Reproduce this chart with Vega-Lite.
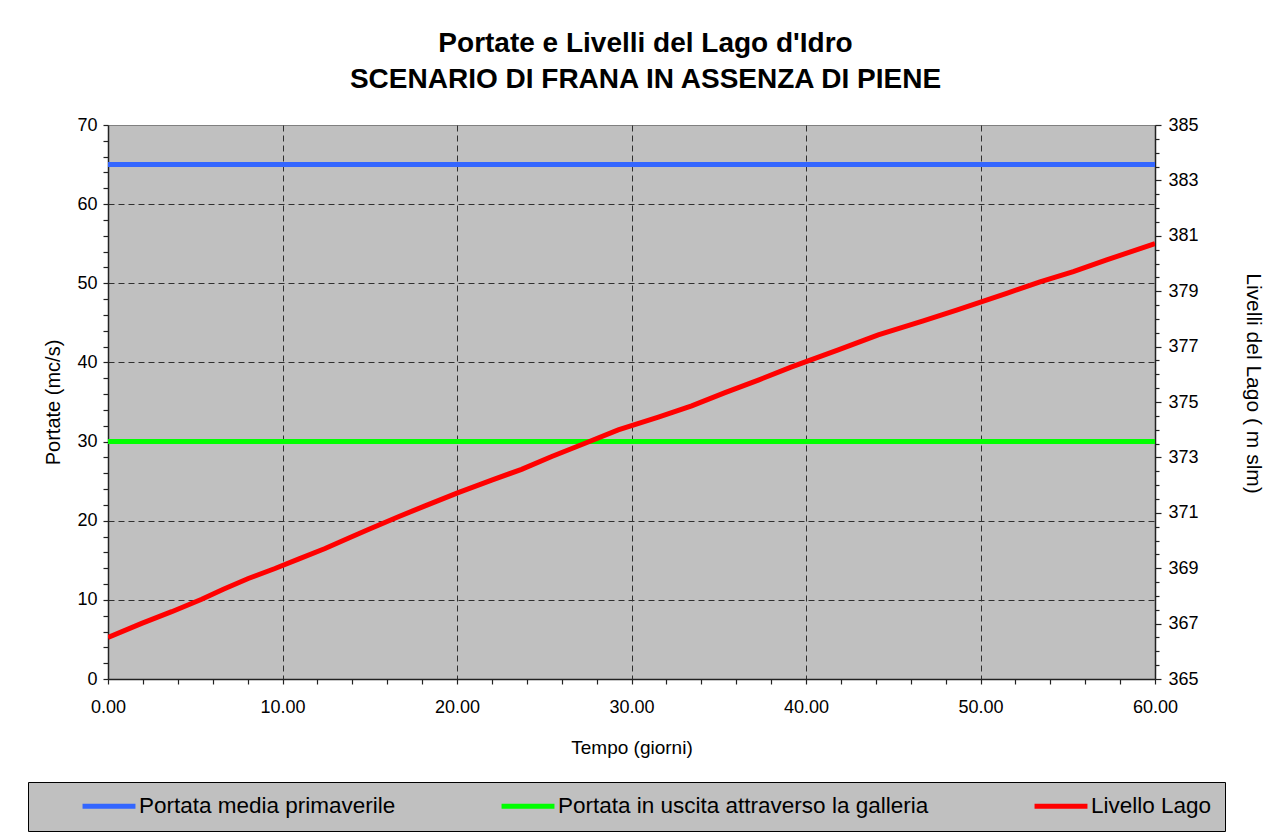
{
  "$schema": "https://vega.github.io/schema/vega-lite/v6.json",
  "width": 1047,
  "height": 554,
  "autosize": {"type": "none"},
  "padding": {"left": 108, "top": 125, "right": 113, "bottom": 153},
  "background": "white",
  "title": {
    "text": ["Portate e Livelli del Lago d'Idro", "SCENARIO DI FRANA IN ASSENZA DI PIENE"],
    "font": "Liberation Sans",
    "fontSize": 28,
    "fontWeight": "bold",
    "color": "black",
    "anchor": "middle",
    "dx": 14,
    "offset": 22,
    "lineHeight": 36
  },
  "data": {
    "values": [
      {"serie": "Portata media primaverile", "t": 0, "portata": 65},
      {"serie": "Portata media primaverile", "t": 60, "portata": 65},
      {"serie": "Portata in uscita attraverso la galleria", "t": 0, "portata": 30},
      {"serie": "Portata in uscita attraverso la galleria", "t": 60, "portata": 30},
      {"serie": "Livello Lago", "t": 0, "livello": 366.5},
      {"serie": "Livello Lago", "t": 1.93, "livello": 367.01},
      {"serie": "Livello Lago", "t": 3.65, "livello": 367.43},
      {"serie": "Livello Lago", "t": 5.37, "livello": 367.88},
      {"serie": "Livello Lago", "t": 6.61, "livello": 368.24},
      {"serie": "Livello Lago", "t": 8.04, "livello": 368.63},
      {"serie": "Livello Lago", "t": 9.57, "livello": 368.99},
      {"serie": "Livello Lago", "t": 10.91, "livello": 369.33},
      {"serie": "Livello Lago", "t": 12.44, "livello": 369.71},
      {"serie": "Livello Lago", "t": 13.77, "livello": 370.08},
      {"serie": "Livello Lago", "t": 14.92, "livello": 370.4},
      {"serie": "Livello Lago", "t": 16.64, "livello": 370.86},
      {"serie": "Livello Lago", "t": 18.17, "livello": 371.25},
      {"serie": "Livello Lago", "t": 20.07, "livello": 371.73},
      {"serie": "Livello Lago", "t": 21.99, "livello": 372.18},
      {"serie": "Livello Lago", "t": 23.7, "livello": 372.57},
      {"serie": "Livello Lago", "t": 25.43, "livello": 373.03},
      {"serie": "Livello Lago", "t": 27.34, "livello": 373.51},
      {"serie": "Livello Lago", "t": 29.24, "livello": 373.99},
      {"serie": "Livello Lago", "t": 31.54, "livello": 374.45},
      {"serie": "Livello Lago", "t": 33.45, "livello": 374.86},
      {"serie": "Livello Lago", "t": 35.36, "livello": 375.34},
      {"serie": "Livello Lago", "t": 37.27, "livello": 375.79},
      {"serie": "Livello Lago", "t": 39.18, "livello": 376.27},
      {"serie": "Livello Lago", "t": 41.85, "livello": 376.88},
      {"serie": "Livello Lago", "t": 44.14, "livello": 377.42},
      {"serie": "Livello Lago", "t": 46.72, "livello": 377.93},
      {"serie": "Livello Lago", "t": 48.63, "livello": 378.32},
      {"serie": "Livello Lago", "t": 51.5, "livello": 378.92},
      {"serie": "Livello Lago", "t": 53.41, "livello": 379.34},
      {"serie": "Livello Lago", "t": 55.32, "livello": 379.71},
      {"serie": "Livello Lago", "t": 57.23, "livello": 380.13},
      {"serie": "Livello Lago", "t": 60, "livello": 380.72}
    ]
  },
  "encoding": {
    "x": {
      "field": "t",
      "type": "quantitative",
      "scale": {"domain": [0, 60], "nice": false},
      "axis": {
        "title": "Tempo (giorni)",
        "titleFontSize": 19,
        "values": [0, 2, 4, 6, 8, 10, 12, 14, 16, 18, 20, 22, 24, 26, 28, 30, 32, 34, 36, 38, 40, 42, 44, 46, 48, 50, 52, 54, 56, 58, 60],
        "format": ".2f",
        "labelExpr": "datum.value % 10 == 0 ? datum.label : ''",
        "grid": true,
        "gridOpacity": {"condition": {"test": "datum.value % 10 == 0 && datum.value > 0 && datum.value < 60", "value": 1}, "value": 0},
        "titlePadding": 22,
        "labelPadding": 14
      }
    },
    "color": {
      "field": "serie",
      "type": "nominal",
      "scale": {
        "domain": ["Portata media primaverile", "Portata in uscita attraverso la galleria", "Livello Lago"],
        "range": ["#3366FF", "#00FF00", "#FF0000"]
      },
      "legend": {"title": null}
    }
  },
  "layer": [
    {
      "transform": [{"filter": "datum.serie != 'Livello Lago'"}],
      "mark": {"type": "line", "strokeWidth": 5, "clip": true},
      "encoding": {
        "y": {
          "field": "portata",
          "type": "quantitative",
          "scale": {"domain": [0, 70], "nice": false},
          "axis": {
            "title": "Portate (mc/s)",
            "titleFontSize": 20,
            "orient": "left",
            "values": [0, 2, 4, 6, 8, 10, 12, 14, 16, 18, 20, 22, 24, 26, 28, 30, 32, 34, 36, 38, 40, 42, 44, 46, 48, 50, 52, 54, 56, 58, 60, 62, 64, 66, 68, 70],
            "labelExpr": "datum.value % 10 == 0 ? datum.label : ''",
            "grid": true,
            "gridOpacity": {"condition": {"test": "datum.value % 10 == 0 && datum.value > 0 && datum.value < 70", "value": 1}, "value": 0},
            "titlePadding": 13,
            "labelPadding": 6
          }
        }
      }
    },
    {
      "transform": [{"filter": "datum.serie == 'Livello Lago'"}],
      "mark": {"type": "line", "strokeWidth": 5, "clip": true},
      "encoding": {
        "y": {
          "field": "livello",
          "type": "quantitative",
          "scale": {"domain": [365, 385], "nice": false, "zero": false},
          "axis": {
            "title": "Livelli del Lago  ( m slm)",
            "titleFontSize": 21,
            "titleY": 258,
            "orient": "right",
            "values": [365, 365.5, 366, 366.5, 367, 367.5, 368, 368.5, 369, 369.5, 370, 370.5, 371, 371.5, 372, 372.5, 373, 373.5, 374, 374.5, 375, 375.5, 376, 376.5, 377, 377.5, 378, 378.5, 379, 379.5, 380, 380.5, 381, 381.5, 382, 382.5, 383, 383.5, 384, 384.5, 385],
            "format": ".1f",
            "labelExpr": "datum.value % 2 == 1 ? format(datum.value, 'd') : ''",
            "tickSize": {"condition": {"test": "datum.value % 2 == 1", "value": 6}, "value": 4},
            "grid": false,
            "titlePadding": 44,
            "labelPadding": 7
          }
        }
      }
    }
  ],
  "resolve": {"scale": {"y": "independent"}},
  "config": {
    "font": "Liberation Sans",
    "view": {"fill": "#C0C0C0", "stroke": "#808080", "strokeWidth": 1},
    "axis": {
      "domainColor": "#222222",
      "domainWidth": 1.5,
      "tickColor": "#222222",
      "tickWidth": 1.2,
      "tickSize": 5,
      "labelFont": "Liberation Sans",
      "labelFontSize": 18,
      "labelColor": "black",
      "labelOverlap": false,
      "labelFlush": false,
      "titleFont": "Liberation Sans",
      "titleFontSize": 16,
      "titleFontWeight": "normal",
      "titleColor": "black",
      "gridColor": "#303030",
      "gridDash": [6, 4],
      "gridWidth": 1
    },
    "legend": {
      "orient": "none",
      "legendX": -80,
      "legendY": 657,
      "direction": "horizontal",
      "columns": 3,
      "fillColor": "#C0C0C0",
      "strokeColor": "#000000",
      "padding": 13,
      "clipHeight": 22,
      "symbolOffset": 39,
      "symbolType": "stroke",
      "symbolSize": 2800,
      "symbolStrokeWidth": 5,
      "labelFont": "Liberation Sans",
      "labelFontSize": 22.5,
      "labelColor": "black",
      "labelOffset": 1,
      "labelLimit": 600,
      "columnPadding": 64
    }
  }
}
